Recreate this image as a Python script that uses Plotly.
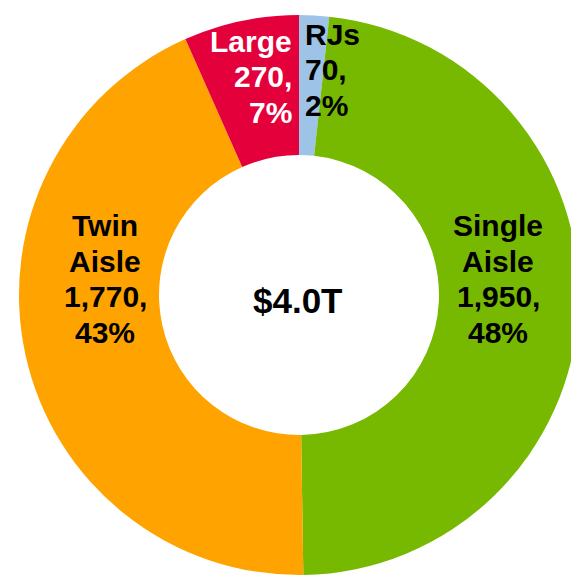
import plotly.graph_objects as go

# ---- data ----
categories = ["RJs", "Single Aisle", "Twin Aisle", "Large"]
values = [70, 1950, 1770, 270]
pct_labels = ["2%", "48%", "43%", "7%"]
name_lines = [["RJs"], ["Single", "Aisle"], ["Twin", "Aisle"], ["Large"]]
colors = ["#9DC3E6", "#76B900", "#FFA300", "#E4003A"]
text_colors = ["black", "black", "black", "white"]
center_text = "$4.0T"

W, H = 579, 583
OFF = 8  # page body margin offset (px)

# label anchor (window px): x, y of first line centre, alignment
anchors = {
    "RJs": (304, 34.5, "left"),
    "Single Aisle": (498, 225.5, "center"),
    "Twin Aisle": (105, 225.5, "center"),
    "Large": (293, 41.5, "right"),
}
LINE_STEP = 35.5
FONT = "Arial, Liberation Sans, sans-serif"


def px_x(x):
    return (x - OFF) / W


def px_y(y):
    return 1 - (y - OFF) / H


# pie: centre ~ (299, 295), radius ~280 in window px
cx, cy, r = 299, 295, 280

fig = go.Figure(
    go.Pie(
        labels=categories,
        values=values,
        marker=dict(colors=colors, line=dict(width=0)),
        hole=0.5,
        sort=False,
        direction="clockwise",
        rotation=0,
        textinfo="none",
        hoverinfo="label+value+percent",
        domain=dict(x=[px_x(cx - r), px_x(cx + r)], y=[px_y(cy + r), px_y(cy - r)]),
        showlegend=False,
    )
)

annotations = []
for cat, val, pct, names, tc in zip(categories, values, pct_labels, name_lines, text_colors):
    lines = names + [f"{val:,},", pct]
    ax, ay, al = anchors[cat]
    for i, line in enumerate(lines):
        py = ay + i * LINE_STEP
        annotations.append(
            dict(
                text=line,
                x=px_x(ax),
                y=px_y(py),
                xref="paper",
                yref="paper",
                xanchor=al,
                yanchor="middle",
                showarrow=False,
                borderpad=0,
                font=dict(family=FONT, size=30, color=tc, weight="bold"),
            )
        )

annotations.append(
    dict(
        text=center_text,
        x=px_x(298),
        y=px_y(300),
        xref="paper",
        yref="paper",
        xanchor="center",
        yanchor="middle",
        showarrow=False,
        borderpad=0,
        font=dict(family=FONT, size=35, color="black", weight="bold"),
    )
)

fig.update_layout(
    width=W,
    height=H,
    margin=dict(l=0, r=0, t=0, b=0),
    paper_bgcolor="white",
    plot_bgcolor="white",
    annotations=annotations,
)

fig.write_html("out.html")
